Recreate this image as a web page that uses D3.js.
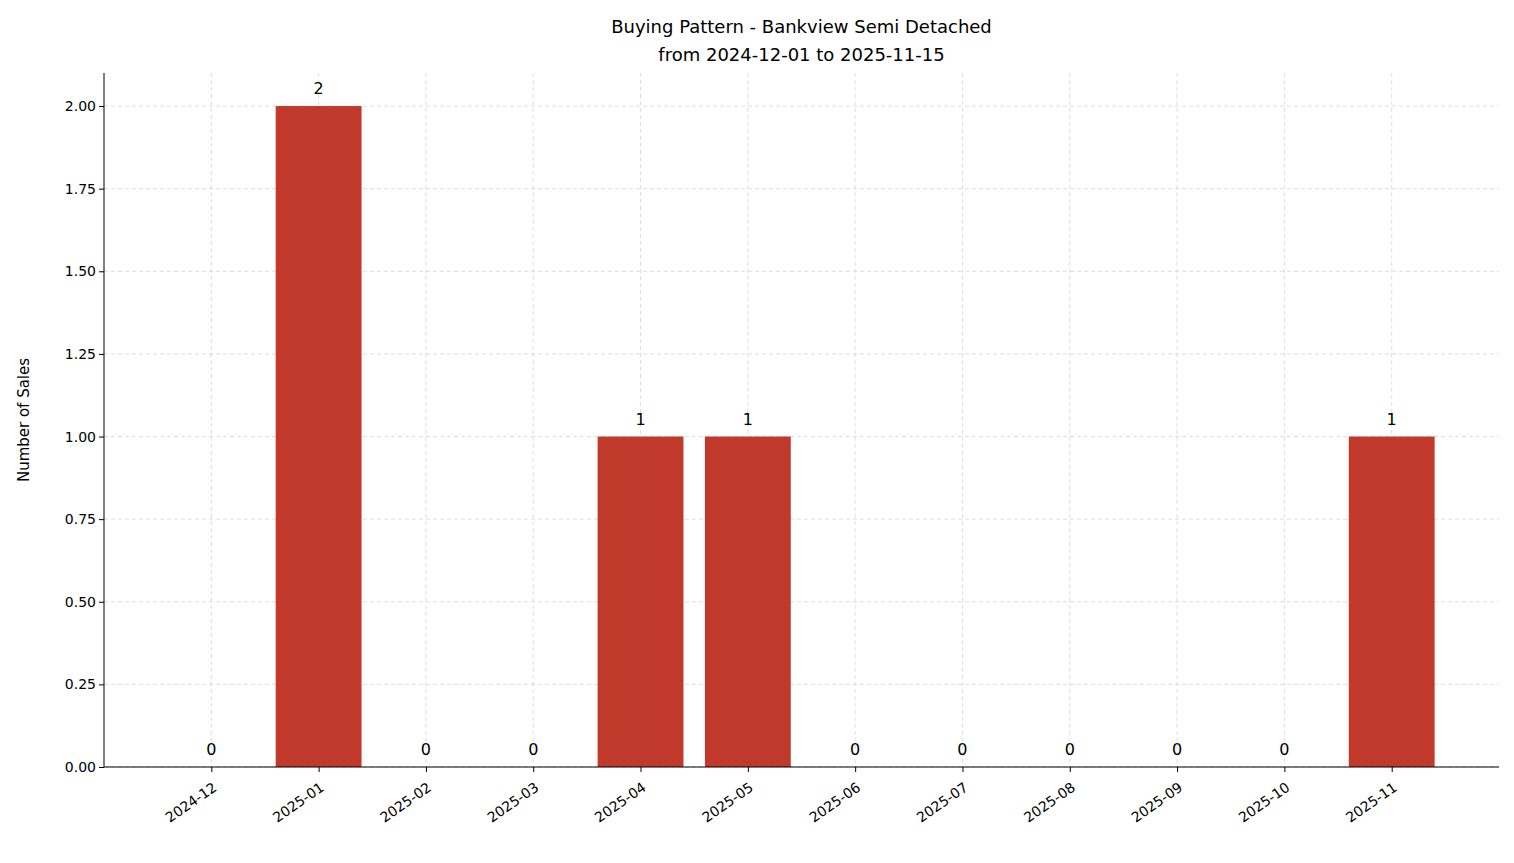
<!DOCTYPE html>
<html><head><meta charset="utf-8">
<script src="https://cdn.jsdelivr.net/npm/d3@7"></script>
<style>body{margin:0;background:#fff}text{font-family:"DejaVu Sans",sans-serif}</style>
</head><body><svg id="c" width="1514" height="863"></svg>
<script>
const months = ["2024-12","2025-01","2025-02","2025-03","2025-04","2025-05","2025-06","2025-07","2025-08","2025-09","2025-10","2025-11"]
const sales = [0,2,0,0,1,1,0,0,0,0,0,1]
const yTicks = [0,0.25,0.5,0.75,1,1.25,1.5,1.75,2]

const svg = d3.select("#c")
const L = 104, R = 1499, T = 73, B = 767
const x = d3.scaleLinear().domain([-1, 12]).range([L, R])
const y = d3.scaleLinear().domain([0, 2.1]).range([B, T])
const bw = x(0.4) - x(-0.4)

// grid
svg.append("g").selectAll("line").data(yTicks).join("line")
  .attr("x1", L).attr("x2", R).attr("y1", d => y(d)).attr("y2", d => y(d))
  .attr("stroke", "#ccc").attr("stroke-width", 0.8).attr("stroke-dasharray", "4,3").attr("opacity", 0.8)
svg.append("g").selectAll("line").data(months).join("line")
  .attr("y1", T).attr("y2", B).attr("x1", (d, i) => x(i)).attr("x2", (d, i) => x(i))
  .attr("stroke", "#ccc").attr("stroke-width", 0.8).attr("stroke-dasharray", "4,3").attr("opacity", 0.8)

svg.append("g").selectAll("rect").data(sales).join("rect")
  .attr("x", (d, i) => x(i) - bw / 2).attr("width", bw)
  .attr("y", d => y(d)).attr("height", d => B - y(d))
  .attr("fill", "#c0392b")

svg.append("g").selectAll("text").data(sales).join("text")
  .attr("x", (d, i) => x(i)).attr("y", d => y(d) - 12)
  .attr("text-anchor", "middle").attr("font-size", 16).text(d => d)

// axes
const ya = svg.append("g").attr("transform", `translate(${L},0)`)
  .call(d3.axisLeft(y).tickValues(yTicks).tickFormat(d3.format(".2f")).tickSizeOuter(0).tickSize(5))
ya.select(".domain").attr("d", `M0,${T}V${B}`)
ya.selectAll("text").attr("font-size", 14).attr("fill", "#000").attr("font-family", "DejaVu Sans")

const xa = svg.append("g").attr("transform", `translate(0,${B})`)
  .call(d3.axisBottom(x).tickValues(d3.range(12)).tickFormat(i => months[i]).tickSize(5).tickSizeOuter(0))
xa.select(".domain").attr("d", `M${L},0H${R}`)
xa.selectAll("text").attr("font-size", 14).attr("fill", "#000").attr("font-family", "DejaVu Sans")
  .attr("text-anchor", "end").attr("dy", null).attr("y", 0)
  .attr("transform", "translate(0,14) rotate(-35)")
  .attr("dominant-baseline", "hanging")
svg.selectAll(".domain, .tick line").attr("stroke", "#000")

svg.append("text").attr("transform", `translate(29,${(T + B) / 2}) rotate(-90)`)
  .attr("text-anchor", "middle").attr("font-size", 15).text("Number of Sales")
svg.append("text").attr("x", (L + R) / 2).attr("y", 33).attr("text-anchor", "middle").attr("font-size", 18)
  .text("Buying Pattern - Bankview Semi Detached")
svg.append("text").attr("x", (L + R) / 2).attr("y", 61).attr("text-anchor", "middle").attr("font-size", 18)
  .text("from 2024-12-01 to 2025-11-15")
</script></body></html>
